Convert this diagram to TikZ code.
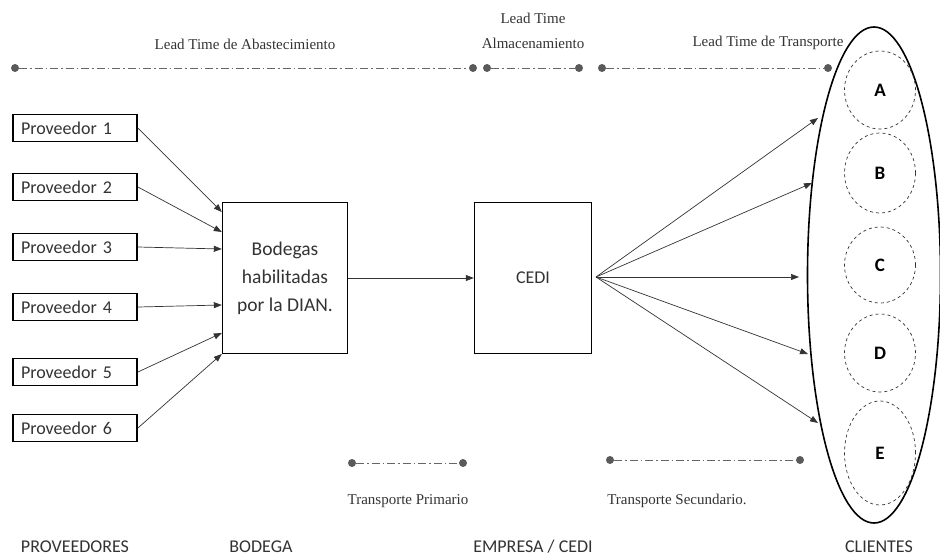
\documentclass[tikz,border=0pt]{standalone}
\usepackage{fontspec}
\setmainfont{Liberation Serif}
\newfontfamily\calib{Carlito}
\usetikzlibrary{arrows.meta,shapes.geometric}
\definecolor{txt}{HTML}{333333}
\definecolor{dotc}{HTML}{5A5A5A}
\tikzset{
  prov/.style={draw=black,line width=1.8pt,minimum width=124pt,minimum height=27pt,
    inner sep=0pt,text=txt,font=\calib\fontsize{18}{20}\selectfont,
    text width=108pt,align=left},
  bigbox/.style={draw=black,line width=1.4pt,inner sep=0pt,text=txt,
    font=\calib\fontsize{19.5}{28}\selectfont,align=center},
  flow/.style={draw=txt,line width=0.7pt,-{Triangle[length=8pt,width=6pt]}},
  ptdot/.style={circle,fill=dotc,inner sep=0pt,minimum size=8pt},
  ddline/.style={draw=gray!80!black,line width=0.8pt,
    dash pattern=on 8pt off 3pt on 1.5pt off 3pt},
  lt/.style={text=txt,font=\fontsize{15}{17}\selectfont,inner sep=0pt},
  client/.style={ellipse,draw=txt,dashed,line width=0.7pt,minimum width=71pt,
    inner sep=0pt,font=\calib\bfseries\fontsize{19}{21}\selectfont,text=black},
  colcaption/.style={text=txt,font=\calib\fontsize{18}{20}\selectfont,inner sep=0pt}
}
\begin{document}
\begin{tikzpicture}[x=1pt,y=-1pt]
\useasboundingbox (0,0) rectangle (940,557);

% lead-time bars along the top
\node[ptdot] (a1) at (15,68) {};
\node[ptdot] (a2) at (473,68) {};
\node[ptdot] (b1) at (487,68) {};
\node[ptdot] (b2) at (579,68) {};
\node[ptdot] (c1) at (602,68) {};
\node[ptdot] (c2) at (828,68) {};
\draw[ddline] (a1) -- (a2);
\draw[ddline] (b1) -- (b2);
\draw[ddline] (c1) -- (c2);
\node[lt] (la) at (245,44) {Lead Time de Abastecimiento};
\node[lt] (lb1) at (533,18) {Lead Time};
\node[lt] (lb2) at (533,43) {Almacenamiento};
\node[lt] (lc) at (768,43) {Lead Time de Transporte};

% suppliers
\node[prov] (p1) at (75,128) {Proveedor 1};
\node[prov] (p2) at (75,187) {Proveedor 2};
\node[prov] (p3) at (75,247) {Proveedor 3};
\node[prov] (p4) at (75,307) {Proveedor 4};
\node[prov] (p5) at (75,372) {Proveedor 5};
\node[prov] (p6) at (75,428) {Proveedor 6};

% bonded warehouse and distribution centre
\node[bigbox,minimum width=125pt,minimum height=151pt] (bod) at (285,278)
  {Bodegas\\habilitadas\\por la DIAN.};
\node[bigbox,minimum width=117pt,minimum height=151pt,
  font=\calib\fontsize{18}{20}\selectfont] (cedi) at (533,278) {CEDI};

\draw[flow] (p1.east) -- ([yshift=66pt]bod.west);
\draw[flow] (p2.east) -- ([yshift=46pt]bod.west);
\draw[flow] (p3.east) -- ([yshift=29pt]bod.west);
\draw[flow] (p4.east) -- ([yshift=-27pt]bod.west);
\draw[flow] (p5.east) -- ([yshift=-55pt]bod.west);
\draw[flow] (p6.east) -- ([yshift=-76pt]bod.west);
\draw[flow] (bod.east) -- (cedi.west);

% customers
\node[ellipse,draw=black,line width=1.6pt,minimum width=133pt,minimum height=496pt,
  inner sep=0pt] (cli) at (874,275) {};
\node[client,minimum height=78pt] (ca) at (880,90) {A};
\node[client,minimum height=80pt] (cb) at (880,173) {B};
\node[client,minimum height=76pt] (cc) at (880,265) {C};
\node[client,minimum height=78pt] (cd) at (880,353) {D};
\node[client,minimum height=104pt] (ce) at (880,453) {E};

\coordinate (ea) at (818,118);
\coordinate (eb) at (812,183);
\coordinate (ec) at (799,277);
\coordinate (ed) at (808,354);
\coordinate (ee) at (818,423);
\coordinate (src) at (596,277);
\foreach \t in {ea,eb,ec,ed,ee} \draw[flow] (src) -- (\t);

% transport legs
\node[ptdot] (t1) at (352,463) {};
\node[ptdot] (t2) at (463,463) {};
\node[ptdot] (s1) at (610,460) {};
\node[ptdot] (s2) at (800,460) {};
\draw[ddline] (t1) -- (t2);
\draw[ddline] (s1) -- (s2);
\node[lt] (tp) at (408,501) {Transporte Primario};
\node[lt] (ts) at (677,501) {Transporte Secundario.};

% column captions
\node[colcaption] (k1) at (75,547) {PROVEEDORES};
\node[colcaption] (k2) at (261,547) {BODEGA};
\node[colcaption] (k3) at (533,547) {EMPRESA / CEDI};
\node[colcaption] (k4) at (879,547) {CLIENTES};
\end{tikzpicture}
\end{document}
